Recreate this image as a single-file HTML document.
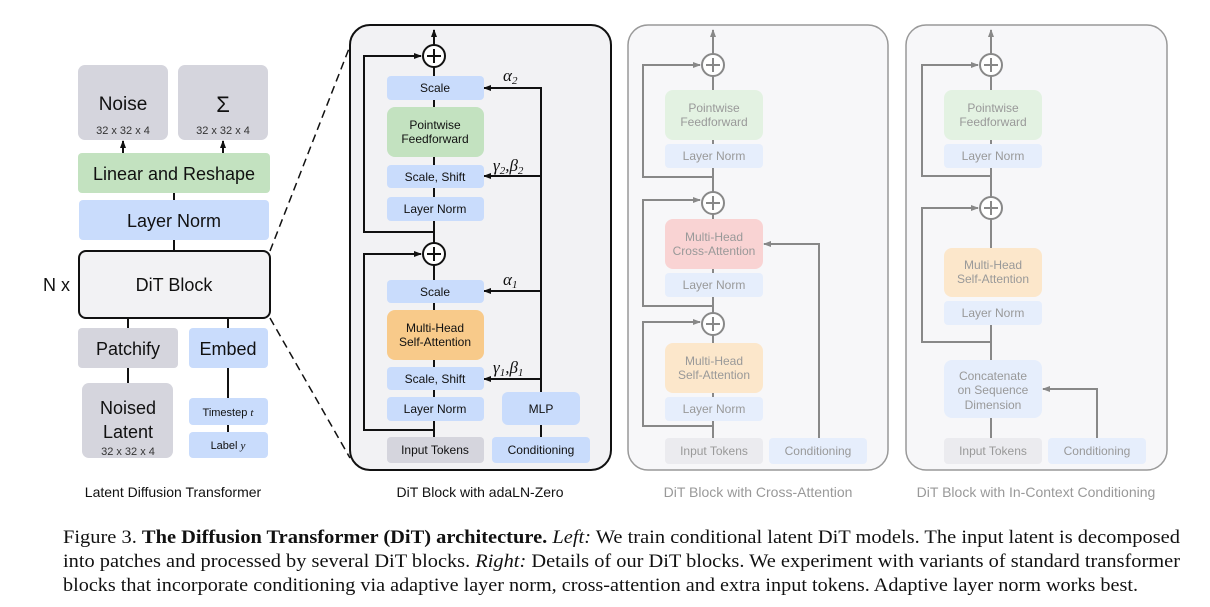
<!DOCTYPE html>
<html><head><meta charset="utf-8"><style>
html,body{margin:0;padding:0;background:#fff;}
svg{display:block;font-family:"Liberation Sans",sans-serif;}
.s{font-family:"Liberation Serif",serif;}
</style></head><body>
<svg width="1210" height="607" viewBox="0 0 1210 607" xmlns="http://www.w3.org/2000/svg">
<defs>
<marker id="ab" markerWidth="8" markerHeight="8" refX="7" refY="4" orient="auto" markerUnits="userSpaceOnUse"><path d="M0,1 L8,4 L0,7 Z" fill="#111"/></marker>
<marker id="ag" markerWidth="8" markerHeight="8" refX="7" refY="4" orient="auto" markerUnits="userSpaceOnUse"><path d="M0,1 L8,4 L0,7 Z" fill="#888"/></marker>
</defs>

<!-- LEFT -->
<g stroke="#111" stroke-width="2" fill="none">
<line x1="123" y1="153" x2="123" y2="141" marker-end="url(#ab)"/>
<line x1="223" y1="153" x2="223" y2="141" marker-end="url(#ab)"/>
<line x1="174" y1="193" x2="174" y2="200"/>
<line x1="174" y1="240" x2="174" y2="251"/>
<line x1="128" y1="318" x2="128" y2="328"/>
<line x1="228" y1="318" x2="228" y2="328"/>
<line x1="128" y1="368" x2="128" y2="383"/>
<line x1="228" y1="368" x2="228" y2="432"/>
</g>
<rect x="78" y="65" width="90" height="75" rx="7" fill="#d5d5dd"/>
<rect x="178" y="65" width="90" height="75" rx="7" fill="#d5d5dd"/>
<text x="123" y="110" font-size="19" text-anchor="middle" fill="#111">Noise</text>
<text x="223" y="112" font-size="22" text-anchor="middle" fill="#111">Σ</text>
<text x="123" y="134" font-size="11" text-anchor="middle" fill="#333">32 x 32 x 4</text>
<text x="223" y="134" font-size="11" text-anchor="middle" fill="#333">32 x 32 x 4</text>
<rect x="78" y="153" width="192" height="40" rx="4" fill="#c3e2c0"/>
<text x="174" y="180" font-size="18" text-anchor="middle" fill="#111">Linear and Reshape</text>
<rect x="79" y="200" width="190" height="40" rx="4" fill="#c9dcfc"/>
<text x="174" y="227" font-size="18" text-anchor="middle" fill="#111">Layer Norm</text>
<rect x="79" y="251" width="191" height="67" rx="7" fill="#f2f2f4" stroke="#111" stroke-width="2"/>
<text x="174" y="291" font-size="18" text-anchor="middle" fill="#111">DiT Block</text>
<text x="70" y="291" font-size="18" text-anchor="end" fill="#111">N x</text>
<rect x="78" y="328" width="100" height="40" rx="4" fill="#d5d5dd"/>
<text x="128" y="355" font-size="18" text-anchor="middle" fill="#111">Patchify</text>
<rect x="189" y="328" width="79" height="40" rx="4" fill="#c9dcfc"/>
<text x="228" y="355" font-size="18" text-anchor="middle" fill="#111">Embed</text>
<rect x="82" y="383" width="91" height="75" rx="7" fill="#d5d5dd"/>
<text x="128" y="414" font-size="18" text-anchor="middle" fill="#111">Noised</text>
<text x="128" y="438" font-size="18" text-anchor="middle" fill="#111">Latent</text>
<text x="128" y="455" font-size="11" text-anchor="middle" fill="#333">32 x 32 x 4</text>
<rect x="189" y="398" width="79" height="27" rx="4" fill="#c9dcfc"/>
<text x="228" y="416" font-size="11" text-anchor="middle" fill="#111">Timestep <tspan class="s" font-style="italic">t</tspan></text>
<rect x="189" y="432" width="79" height="26" rx="4" fill="#c9dcfc"/>
<text x="228" y="449" font-size="11" text-anchor="middle" fill="#111">Label <tspan class="s" font-style="italic">y</tspan></text>
<text x="173" y="497" font-size="14" text-anchor="middle" fill="#111">Latent Diffusion Transformer</text>
<g stroke="#111" stroke-width="1.5" stroke-dasharray="8,5">
<line x1="270" y1="251" x2="350" y2="46"/>
<line x1="270" y1="318" x2="350" y2="458"/>
</g>

<!-- MIDDLE -->
<rect x="350" y="25" width="261" height="445" rx="20" fill="#f2f2f4" stroke="#111" stroke-width="2"/>
<g stroke="#111" stroke-width="2" fill="none">
<line x1="434" y1="45" x2="434" y2="30" marker-end="url(#ab)"/>
<line x1="434" y1="67" x2="434" y2="243"/>
<line x1="434" y1="265" x2="434" y2="437"/>
<polyline points="434,232 364,232 364,56 421,56" marker-end="url(#ab)"/>
<polyline points="434,430 364,430 364,254 421,254" marker-end="url(#ab)"/>
<line x1="541" y1="437" x2="541" y2="425"/>
<polyline points="541,392 541,88 484,88" marker-end="url(#ab)"/>
<line x1="541" y1="176" x2="484" y2="176" marker-end="url(#ab)"/>
<line x1="541" y1="291" x2="484" y2="291" marker-end="url(#ab)"/>
<line x1="541" y1="379" x2="484" y2="379" marker-end="url(#ab)"/>
</g>
<g fill="#fff" stroke="#111" stroke-width="2"><circle cx="434" cy="56" r="11"/><circle cx="434" cy="254" r="11"/></g>
<g stroke="#111" stroke-width="2"><line x1="427" y1="56" x2="441" y2="56"/><line x1="434" y1="49" x2="434" y2="63"/><line x1="427" y1="254" x2="441" y2="254"/><line x1="434" y1="247" x2="434" y2="261"/></g>
<g font-size="12" text-anchor="middle" fill="#111">
<rect x="387" y="76" width="97" height="24" rx="4" fill="#c9dcfc"/><text x="435" y="92">Scale</text>
<rect x="387" y="107" width="97" height="50" rx="8" fill="#c3e2c0"/><text x="435" y="129">Pointwise</text><text x="435" y="143">Feedforward</text>
<rect x="387" y="165" width="97" height="23" rx="4" fill="#c9dcfc"/><text x="435" y="181">Scale, Shift</text>
<rect x="387" y="197" width="97" height="24" rx="4" fill="#c9dcfc"/><text x="435" y="213">Layer Norm</text>
<rect x="387" y="280" width="97" height="23" rx="4" fill="#c9dcfc"/><text x="435" y="296">Scale</text>
<rect x="387" y="310" width="97" height="50" rx="8" fill="#f8ca8a"/><text x="435" y="332">Multi-Head</text><text x="435" y="346">Self-Attention</text>
<rect x="387" y="367" width="97" height="23" rx="4" fill="#c9dcfc"/><text x="435" y="383">Scale, Shift</text>
<rect x="387" y="397" width="97" height="24" rx="4" fill="#c9dcfc"/><text x="435" y="413">Layer Norm</text>
<rect x="387" y="437" width="97" height="26" rx="4" fill="#d5d5dd"/><text x="435" y="454">Input Tokens</text>
<rect x="492" y="437" width="98" height="26" rx="4" fill="#c9dcfc"/><text x="541" y="454">Conditioning</text>
<rect x="502" y="392" width="78" height="33" rx="6" fill="#c9dcfc"/><text x="541" y="413">MLP</text>
</g>
<g class="s" font-style="italic" font-size="17" fill="#111">
<text x="503" y="81">α<tspan font-size="11" dy="3">2</tspan></text>
<text x="493" y="171">γ<tspan font-size="11" dy="3">2</tspan><tspan dy="-3">,β</tspan><tspan font-size="11" dy="3">2</tspan></text>
<text x="503" y="285">α<tspan font-size="11" dy="3">1</tspan></text>
<text x="493" y="373">γ<tspan font-size="11" dy="3">1</tspan><tspan dy="-3">,β</tspan><tspan font-size="11" dy="3">1</tspan></text>
</g>
<text x="480" y="497" font-size="14" text-anchor="middle" fill="#111">DiT Block with adaLN-Zero</text>

<!-- CROSS ATTENTION -->
<rect x="628" y="25" width="260" height="445" rx="20" fill="#f7f7f9" stroke="#999" stroke-width="1.5"/>
<g stroke="#888" stroke-width="2" fill="none">
<line x1="713" y1="54" x2="713" y2="30" marker-end="url(#ag)"/>
<line x1="713" y1="76" x2="713" y2="192"/>
<line x1="713" y1="214" x2="713" y2="313"/>
<line x1="713" y1="335" x2="713" y2="438"/>
<polyline points="713,177 643,177 643,65 700,65" marker-end="url(#ag)"/>
<polyline points="713,306 643,306 643,200 700,200" marker-end="url(#ag)"/>
<polyline points="713,426 643,426 643,322 700,322" marker-end="url(#ag)"/>
<polyline points="819,438 819,244 764,244" marker-end="url(#ag)"/>
</g>
<g fill="#fff" stroke="#888" stroke-width="2"><circle cx="713" cy="65" r="11"/><circle cx="713" cy="203" r="11"/><circle cx="713" cy="324" r="11"/></g>
<g stroke="#888" stroke-width="2"><line x1="706" y1="65" x2="720" y2="65"/><line x1="713" y1="58" x2="713" y2="72"/><line x1="706" y1="203" x2="720" y2="203"/><line x1="713" y1="196" x2="713" y2="210"/><line x1="706" y1="324" x2="720" y2="324"/><line x1="713" y1="317" x2="713" y2="331"/></g>
<g font-size="12" text-anchor="middle" fill="#999">
<rect x="665" y="90" width="98" height="50" rx="8" fill="#e3f2e2"/><text x="714" y="112">Pointwise</text><text x="714" y="126">Feedforward</text>
<rect x="665" y="144" width="98" height="24" rx="4" fill="#e6eefc"/><text x="714" y="160">Layer Norm</text>
<rect x="665" y="219" width="98" height="50" rx="8" fill="#f9d3d3"/><text x="714" y="241">Multi-Head</text><text x="714" y="255">Cross-Attention</text>
<rect x="665" y="273" width="98" height="24" rx="4" fill="#e6eefc"/><text x="714" y="289">Layer Norm</text>
<rect x="665" y="343" width="98" height="50" rx="8" fill="#fce7cb"/><text x="714" y="365">Multi-Head</text><text x="714" y="379">Self-Attention</text>
<rect x="665" y="397" width="98" height="24" rx="4" fill="#e6eefc"/><text x="714" y="413">Layer Norm</text>
<rect x="665" y="438" width="98" height="26" rx="4" fill="#ebebef"/><text x="714" y="455">Input Tokens</text>
<rect x="769" y="438" width="98" height="26" rx="4" fill="#e6eefc"/><text x="818" y="455">Conditioning</text>
</g>
<text x="758" y="497" font-size="14" text-anchor="middle" fill="#999">DiT Block with Cross-Attention</text>

<!-- IN-CONTEXT -->
<rect x="906" y="25" width="261" height="445" rx="20" fill="#f7f7f9" stroke="#999" stroke-width="1.5"/>
<g stroke="#888" stroke-width="2" fill="none">
<line x1="991" y1="54" x2="991" y2="30" marker-end="url(#ag)"/>
<line x1="991" y1="76" x2="991" y2="197"/>
<line x1="991" y1="219" x2="991" y2="248"/>
<line x1="991" y1="325" x2="991" y2="360"/>
<line x1="991" y1="418" x2="991" y2="438"/>
<polyline points="991,176 922,176 922,65 978,65" marker-end="url(#ag)"/>
<polyline points="991,342 922,342 922,208 978,208" marker-end="url(#ag)"/>
<polyline points="1097,438 1097,389 1043,389" marker-end="url(#ag)"/>
</g>
<g fill="#fff" stroke="#888" stroke-width="2"><circle cx="991" cy="65" r="11"/><circle cx="991" cy="208" r="11"/></g>
<g stroke="#888" stroke-width="2"><line x1="984" y1="65" x2="998" y2="65"/><line x1="991" y1="58" x2="991" y2="72"/><line x1="984" y1="208" x2="998" y2="208"/><line x1="991" y1="201" x2="991" y2="215"/></g>
<g font-size="12" text-anchor="middle" fill="#999">
<rect x="944" y="90" width="98" height="50" rx="8" fill="#e3f2e2"/><text x="993" y="112">Pointwise</text><text x="993" y="126">Feedforward</text>
<rect x="944" y="144" width="98" height="24" rx="4" fill="#e6eefc"/><text x="993" y="160">Layer Norm</text>
<rect x="944" y="248" width="98" height="49" rx="8" fill="#fce7cb"/><text x="993" y="269">Multi-Head</text><text x="993" y="283">Self-Attention</text>
<rect x="944" y="301" width="98" height="24" rx="4" fill="#e6eefc"/><text x="993" y="317">Layer Norm</text>
<rect x="944" y="360" width="98" height="58" rx="8" fill="#e6eefc"/><text x="993" y="380">Concatenate</text><text x="993" y="394">on Sequence</text><text x="993" y="409">Dimension</text>
<rect x="944" y="438" width="98" height="26" rx="4" fill="#ebebef"/><text x="993" y="455">Input Tokens</text>
<rect x="1048" y="438" width="98" height="26" rx="4" fill="#e6eefc"/><text x="1097" y="455">Conditioning</text>
</g>
<text x="1036" y="497" font-size="14" text-anchor="middle" fill="#999">DiT Block with In-Context Conditioning</text>

<!-- CAPTION -->
<g class="s" font-size="19" fill="#111">
<text x="63" y="543" textLength="1117" lengthAdjust="spacingAndGlyphs">Figure 3. <tspan font-weight="bold">The Diffusion Transformer (DiT) architecture.</tspan> <tspan font-style="italic">Left:</tspan> We train conditional latent DiT models. The input latent is decomposed</text>
<text x="63" y="567" textLength="1117" lengthAdjust="spacingAndGlyphs">into patches and processed by several DiT blocks. <tspan font-style="italic">Right:</tspan> Details of our DiT blocks. We experiment with variants of standard transformer</text>
<text x="63" y="591" textLength="1075" lengthAdjust="spacingAndGlyphs">blocks that incorporate conditioning via adaptive layer norm, cross-attention and extra input tokens. Adaptive layer norm works best.</text>
</g>
</svg>
</body></html>
